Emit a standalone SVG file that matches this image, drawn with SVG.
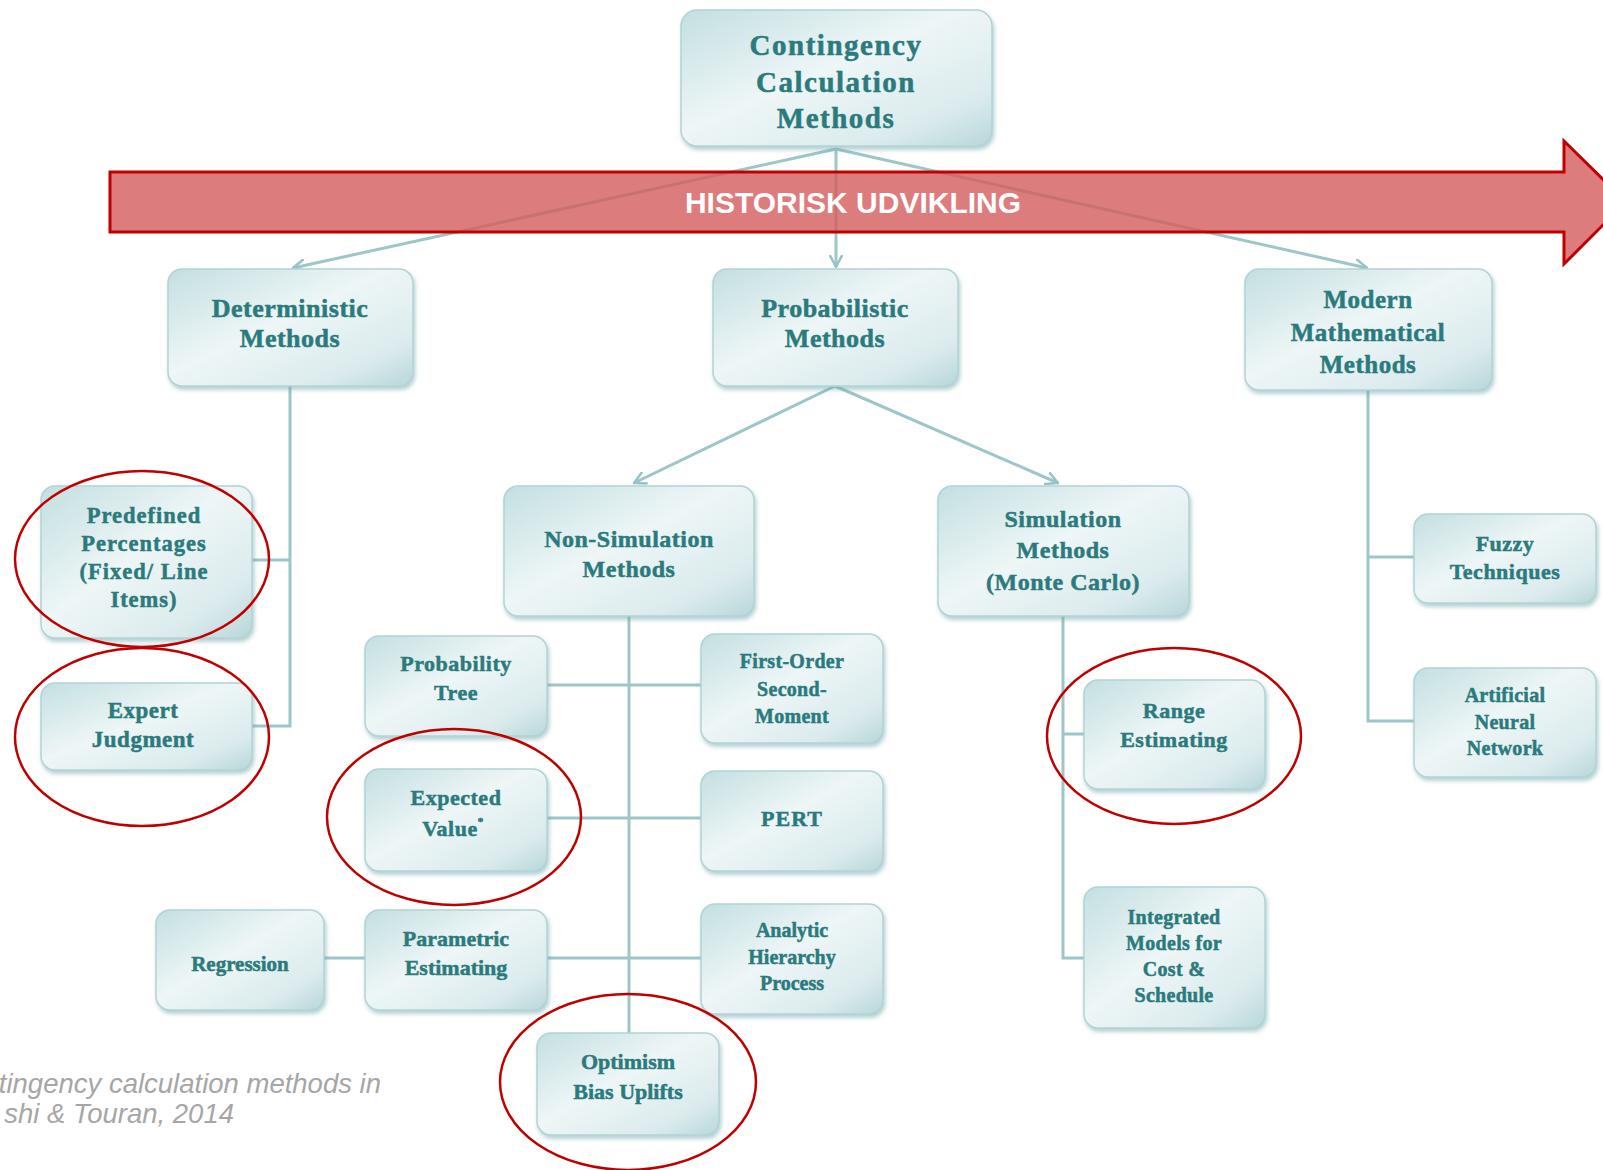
<svg xmlns="http://www.w3.org/2000/svg" width="1603" height="1170" viewBox="0 0 1603 1170">
  <defs>
    <linearGradient id="boxFill" x1="0" y1="0" x2="1" y2="1">
      <stop offset="0" stop-color="#c3dfe1"/>
      <stop offset="0.45" stop-color="#eef6f7"/>
      <stop offset="0.8" stop-color="#dbebed"/>
      <stop offset="1" stop-color="#b8d7d9"/>
    </linearGradient>
    <filter id="boxShadow" x="-10%" y="-10%" width="125%" height="130%">
      <feDropShadow dx="1.5" dy="3" stdDeviation="2" flood-color="#6ea7aa" flood-opacity="0.55"/>
    </filter>
    <marker id="chev" viewBox="0 0 14 14" refX="12.5" refY="7" markerWidth="14" markerHeight="14" markerUnits="userSpaceOnUse" orient="auto">
      <path d="M1,1 L12.5,7 L1,13" fill="none" stroke="#96c3c6" stroke-width="2.5" stroke-linecap="round" stroke-linejoin="round"/>
    </marker>
    <style>
      .box { fill: url(#boxFill); stroke: #b2d3d5; stroke-width: 1.5; filter: url(#boxShadow); }
      .lbl { font-family: "Liberation Serif", "Times New Roman", serif; font-weight: bold; fill: #2b7a7c; stroke: #2b7a7c; stroke-width: 0.5; text-anchor: middle; }
      .conn { fill: none; stroke: #9cc6c8; stroke-width: 3; }
      .ring { fill: none; stroke: #c00000; stroke-width: 2.5; }
      .cap { font-family: "Liberation Sans", Arial, sans-serif; font-style: italic; font-size: 27.5px; fill: #a6a6a6; text-anchor: end; }
    </style>
  </defs>

  <rect width="1603" height="1170" fill="#ffffff"/>

  <!-- connectors -->
  <g id="connectors">
    <line class="conn" x1="836" y1="149" x2="293" y2="268" marker-end="url(#chev)"/>
    <line class="conn" x1="836" y1="149" x2="836" y2="267" marker-end="url(#chev)"/>
    <line class="conn" x1="836" y1="149" x2="1367" y2="268" marker-end="url(#chev)"/>
    <line class="conn" x1="835" y1="386" x2="634" y2="483" marker-end="url(#chev)"/>
    <line class="conn" x1="835" y1="386" x2="1058" y2="483" marker-end="url(#chev)"/>
    <path class="conn" d="M290,386 V726 H252 M290,560 H252"/>
    <path class="conn" d="M629,616 V1033 M547,685 H701 M547,818 H701 M324,958 H365 M547,958 H701"/>
    <path class="conn" d="M1063,616 V958 H1084 M1063,734 H1084"/>
    <path class="conn" d="M1368,390 V721 H1414 M1368,557 H1414"/>
  </g>

  <!-- timeline arrow -->
  <g id="timeline">
    <polygon points="110,172 1564,172 1564,141 1626,202 1564,264 1564,232 110,232" fill="#d45b5b" fill-opacity="0.8" stroke="#c00000" stroke-width="3"/>
    <text x="853" y="213" font-family="Liberation Sans, Arial, sans-serif" font-weight="bold" font-size="30" fill="#ffffff" text-anchor="middle">HISTORISK UDVIKLING</text>
  </g>

  <!-- nodes -->
  <g id="n-root">
    <rect class="box" x="681" y="10" width="311" height="136" rx="16"/>
    <text class="lbl" font-size="29" letter-spacing="1.5"><tspan x="836" y="55">Contingency</tspan><tspan x="836" y="92">Calculation</tspan><tspan x="836" y="128">Methods</tspan></text>
  </g>
  <g id="n-deterministic">
    <rect class="box" x="168" y="269" width="245" height="117" rx="14"/>
    <text class="lbl" font-size="26" letter-spacing="0.5"><tspan x="290" y="317">Deterministic</tspan><tspan x="290" y="347">Methods</tspan></text>
  </g>
  <g id="n-probabilistic">
    <rect class="box" x="713" y="269" width="245" height="117" rx="14"/>
    <text class="lbl" font-size="26" letter-spacing="0.5"><tspan x="835" y="317">Probabilistic</tspan><tspan x="835" y="347">Methods</tspan></text>
  </g>
  <g id="n-modern">
    <rect class="box" x="1245" y="269" width="247" height="121" rx="14"/>
    <text class="lbl" font-size="25" letter-spacing="0.5"><tspan x="1368" y="308">Modern</tspan><tspan x="1368" y="341">Mathematical</tspan><tspan x="1368" y="373">Methods</tspan></text>
  </g>
  <g id="n-predefined">
    <rect class="box" x="41" y="486" width="211" height="152" rx="14"/>
    <text class="lbl" font-size="22.5" letter-spacing="1"><tspan x="144" y="523">Predefined</tspan><tspan x="144" y="551">Percentages</tspan><tspan x="144" y="579">(Fixed/ Line</tspan><tspan x="144" y="607">Items)</tspan></text>
  </g>
  <g id="n-expert">
    <rect class="box" x="41" y="683" width="211" height="87" rx="14"/>
    <text class="lbl" font-size="23" letter-spacing="0.5"><tspan x="143" y="718">Expert</tspan><tspan x="143" y="747">Judgment</tspan></text>
  </g>
  <g id="n-nonsim">
    <rect class="box" x="504" y="486" width="250" height="130" rx="14"/>
    <text class="lbl" font-size="24" letter-spacing="0.5"><tspan x="629" y="547">Non-Simulation</tspan><tspan x="629" y="577">Methods</tspan></text>
  </g>
  <g id="n-sim">
    <rect class="box" x="938" y="486" width="251" height="130" rx="14"/>
    <text class="lbl" font-size="24" letter-spacing="0.5"><tspan x="1063" y="527">Simulation</tspan><tspan x="1063" y="558">Methods</tspan><tspan x="1063" y="590">(Monte Carlo)</tspan></text>
  </g>
  <g id="n-probtree">
    <rect class="box" x="365" y="636" width="182" height="100" rx="14"/>
    <text class="lbl" font-size="22" letter-spacing="0.5"><tspan x="456" y="671">Probability</tspan><tspan x="456" y="700">Tree</tspan></text>
  </g>
  <g id="n-fosm">
    <rect class="box" x="701" y="634" width="182" height="109" rx="14"/>
    <text class="lbl" font-size="20" letter-spacing="0.3"><tspan x="792" y="668">First-Order</tspan><tspan x="792" y="696">Second-</tspan><tspan x="792" y="723">Moment</tspan></text>
  </g>
  <g id="n-expected">
    <rect class="box" x="365" y="769" width="182" height="102" rx="14"/>
    <text class="lbl" font-size="22" letter-spacing="0.5"><tspan x="456" y="805">Expected</tspan><tspan x="453" y="836">Value</tspan><tspan font-size="11" dy="-11">*</tspan></text>
  </g>
  <g id="n-pert">
    <rect class="box" x="701" y="771" width="182" height="100" rx="14"/>
    <text class="lbl" font-size="22" letter-spacing="1" x="792" y="826">PERT</text>
  </g>
  <g id="n-regression">
    <rect class="box" x="156" y="910" width="168" height="100" rx="14"/>
    <text class="lbl" font-size="21" x="240" y="971">Regression</text>
  </g>
  <g id="n-parametric">
    <rect class="box" x="365" y="910" width="182" height="100" rx="14"/>
    <text class="lbl" font-size="22"><tspan x="456" y="946">Parametric</tspan><tspan x="456" y="975">Estimating</tspan></text>
  </g>
  <g id="n-ahp">
    <rect class="box" x="701" y="904" width="182" height="110" rx="14"/>
    <text class="lbl" font-size="20"><tspan x="792" y="937">Analytic</tspan><tspan x="792" y="964">Hierarchy</tspan><tspan x="792" y="990">Process</tspan></text>
  </g>
  <g id="n-optimism">
    <rect class="box" x="537" y="1033" width="182" height="102" rx="14"/>
    <text class="lbl" font-size="22"><tspan x="628" y="1069">Optimism</tspan><tspan x="628" y="1099">Bias Uplifts</tspan></text>
  </g>
  <g id="n-range">
    <rect class="box" x="1084" y="680" width="181" height="109" rx="14"/>
    <text class="lbl" font-size="22" letter-spacing="0.5"><tspan x="1174" y="718">Range</tspan><tspan x="1174" y="747">Estimating</tspan></text>
  </g>
  <g id="n-integrated">
    <rect class="box" x="1084" y="887" width="181" height="141" rx="14"/>
    <text class="lbl" font-size="20" letter-spacing="0.3"><tspan x="1174" y="924">Integrated</tspan><tspan x="1174" y="950">Models for</tspan><tspan x="1174" y="976">Cost &amp;</tspan><tspan x="1174" y="1002">Schedule</tspan></text>
  </g>
  <g id="n-fuzzy">
    <rect class="box" x="1414" y="514" width="182" height="89" rx="14"/>
    <text class="lbl" font-size="22" letter-spacing="0.5"><tspan x="1505" y="551">Fuzzy</tspan><tspan x="1505" y="579">Techniques</tspan></text>
  </g>
  <g id="n-ann">
    <rect class="box" x="1414" y="668" width="182" height="109" rx="14"/>
    <text class="lbl" font-size="20" letter-spacing="0.3"><tspan x="1505" y="702">Artificial</tspan><tspan x="1505" y="729">Neural</tspan><tspan x="1505" y="755">Network</tspan></text>
  </g>

  <!-- highlight rings -->
  <g id="rings">
    <ellipse class="ring" cx="142" cy="559" rx="127" ry="88"/>
    <ellipse class="ring" cx="142" cy="737" rx="127" ry="89"/>
    <ellipse class="ring" cx="454" cy="817" rx="127" ry="88"/>
    <ellipse class="ring" cx="628" cy="1082" rx="128" ry="88"/>
    <ellipse class="ring" cx="1174" cy="736" rx="127" ry="88"/>
  </g>

  <!-- source caption -->
  <g id="caption">
    <text class="cap" x="381" y="1093">tingency calculation methods in</text>
    <text class="cap" x="234" y="1123">shi &amp; Touran, 2014</text>
  </g>
</svg>
